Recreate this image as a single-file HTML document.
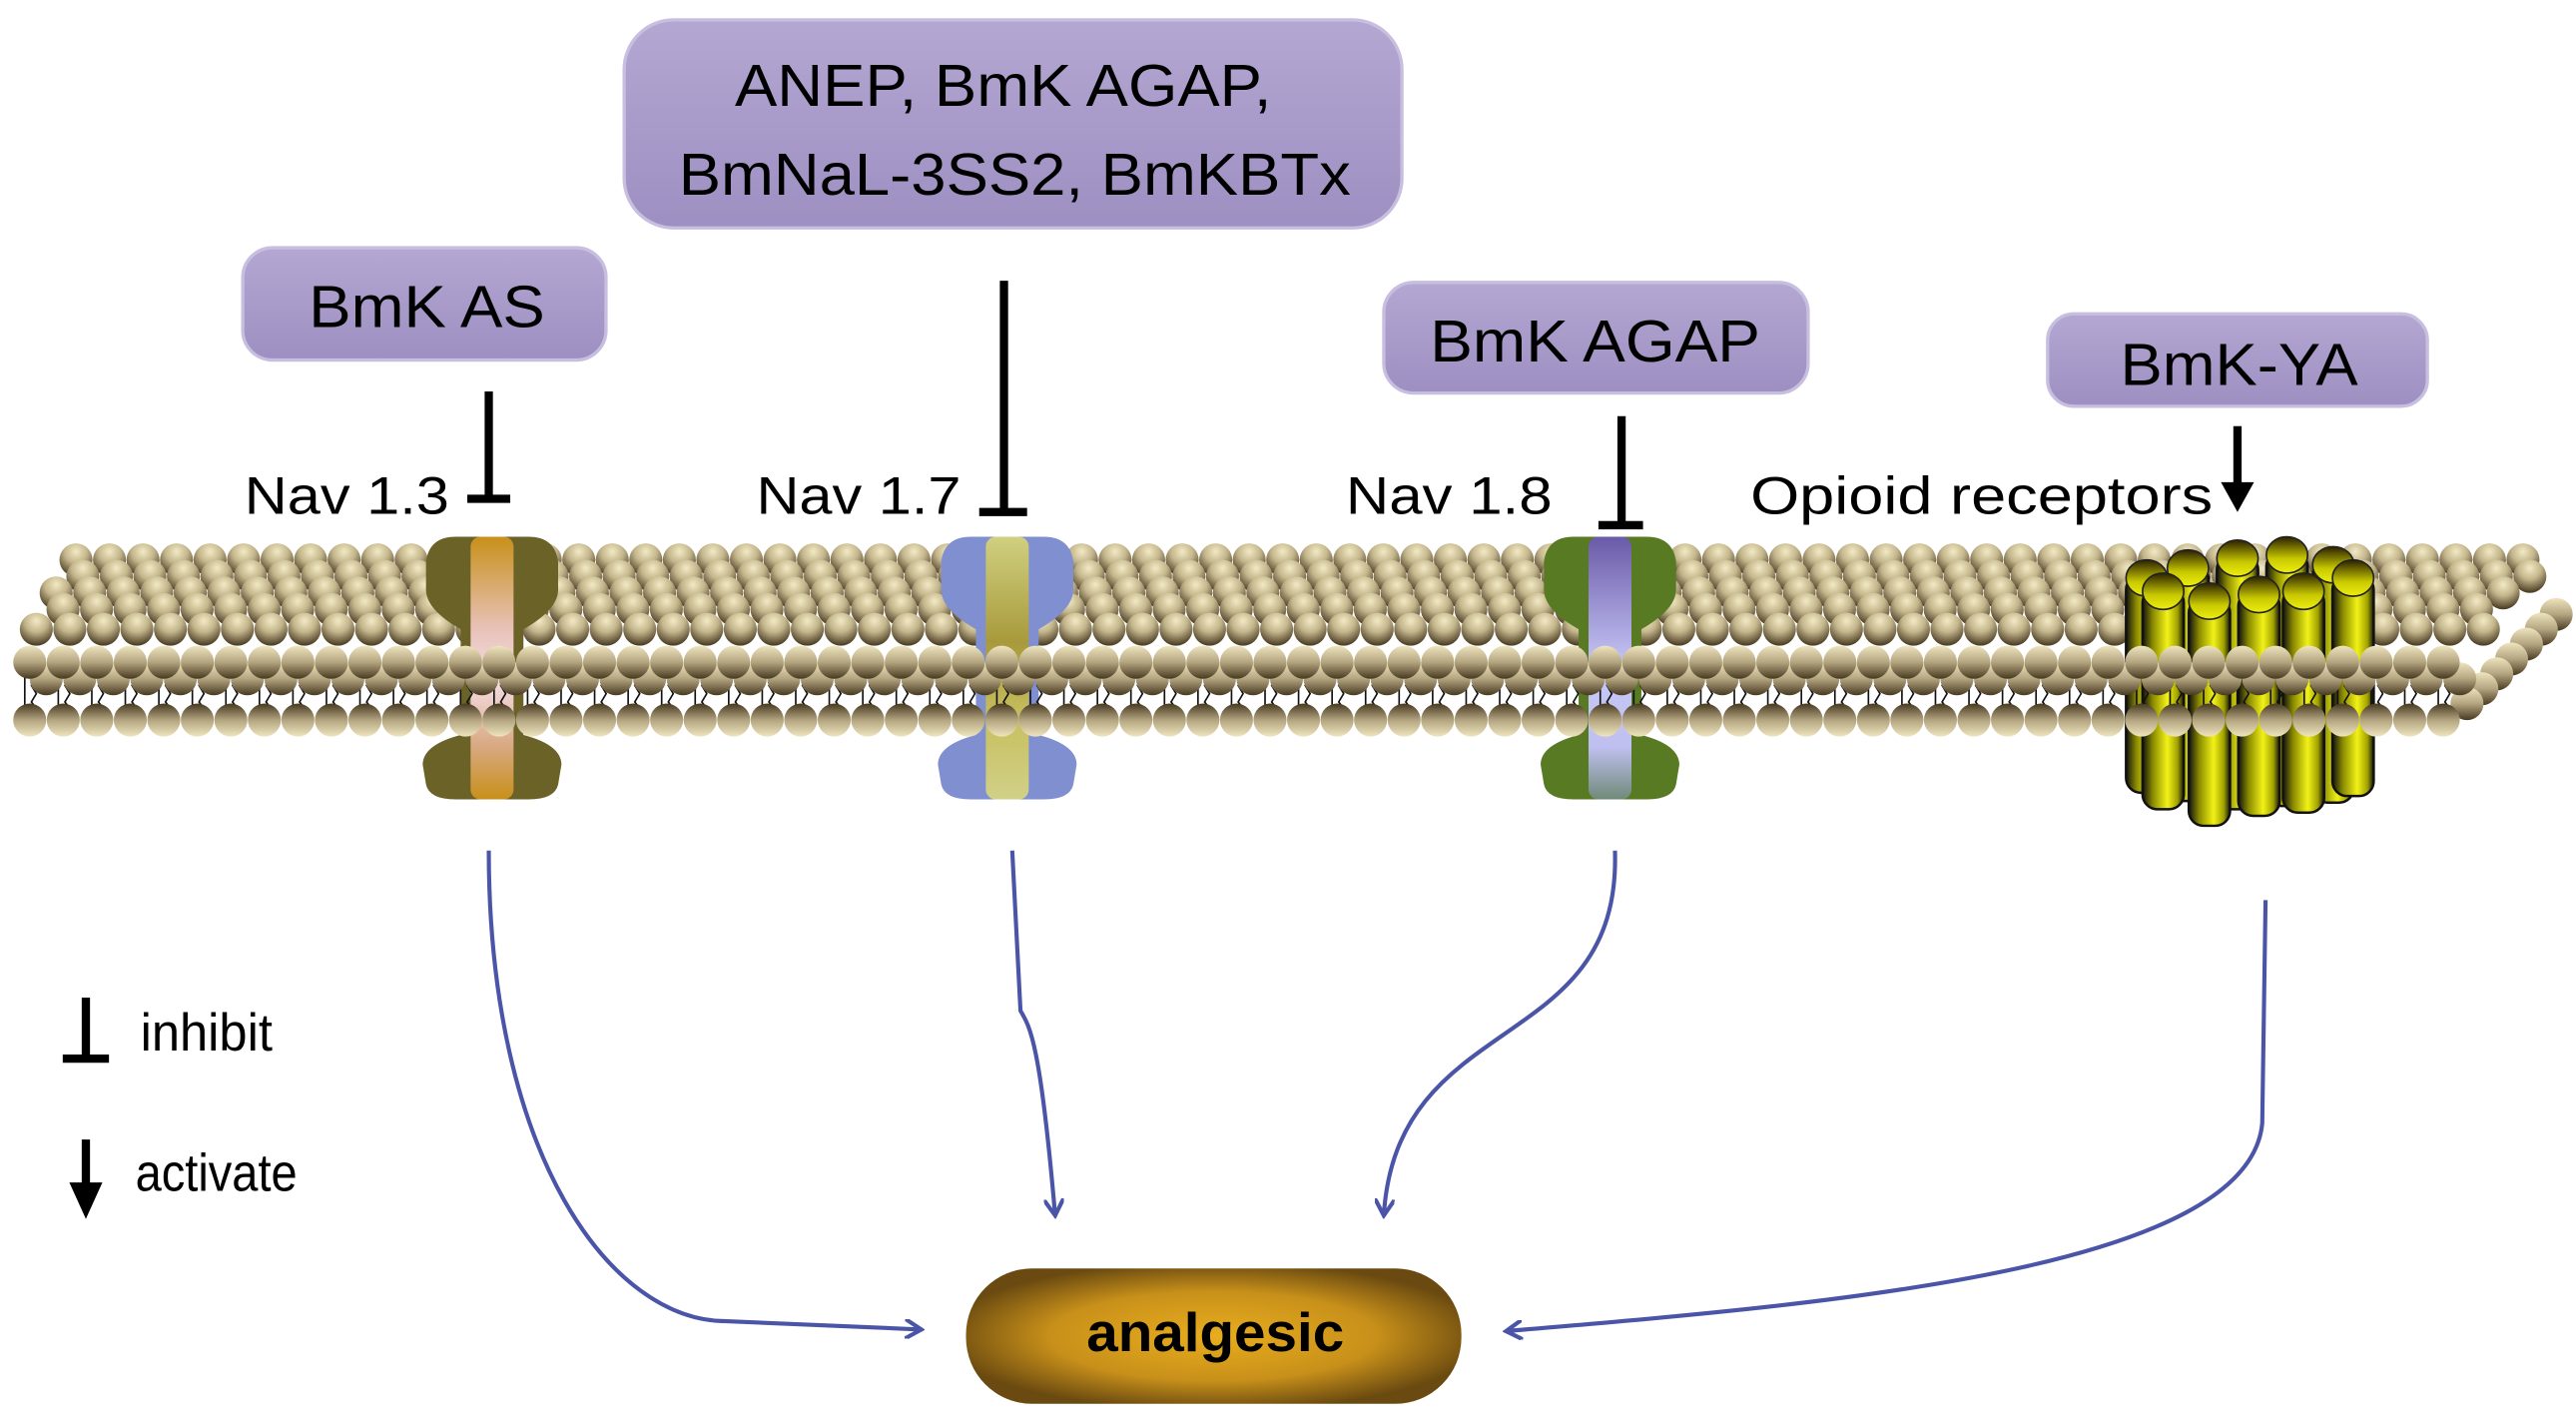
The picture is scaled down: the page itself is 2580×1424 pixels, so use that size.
<!DOCTYPE html>
<html><head><meta charset="utf-8"><style>
html,body{margin:0;padding:0;background:#fff;}
svg{display:block;}
text{font-family:"Liberation Sans",sans-serif;}
</style></head><body>
<svg id="s" xmlns="http://www.w3.org/2000/svg" width="2580" height="1424" viewBox="0 0 1560 861" preserveAspectRatio="none">
<defs>
<radialGradient id="hd" cx="0.5" cy="0.25" r="0.75"><stop offset="0" stop-color="#f2e9c4"/><stop offset="0.45" stop-color="#c4b68c"/><stop offset="1" stop-color="#46381f"/></radialGradient>
<linearGradient id="hu" x1="0" y1="0" x2="0" y2="1"><stop offset="0" stop-color="#efe5bf"/><stop offset="0.5" stop-color="#b3a580"/><stop offset="1" stop-color="#473920"/></linearGradient>
<linearGradient id="hb" x1="0" y1="0" x2="0" y2="1"><stop offset="0" stop-color="#473920"/><stop offset="0.5" stop-color="#b3a580"/><stop offset="1" stop-color="#efe5bf"/></linearGradient>
<linearGradient id="box" x1="0" y1="0" x2="0" y2="1"><stop offset="0" stop-color="#b4a7d2"/><stop offset="1" stop-color="#9d8fc1"/></linearGradient>
<linearGradient id="p13" x1="0" y1="0" x2="0" y2="1"><stop offset="0" stop-color="#c8901a"/><stop offset="0.35" stop-color="#e8c2b8"/><stop offset="0.55" stop-color="#f5dde5"/><stop offset="0.8" stop-color="#d8a880"/><stop offset="1" stop-color="#c8901a"/></linearGradient>
<linearGradient id="p17" x1="0" y1="0" x2="0" y2="1"><stop offset="0" stop-color="#d0d080"/><stop offset="0.4" stop-color="#a89a3c"/><stop offset="0.7" stop-color="#c8c060"/><stop offset="1" stop-color="#d0d088"/></linearGradient>
<linearGradient id="p18" x1="0" y1="0" x2="0" y2="1"><stop offset="0" stop-color="#6a5aa8"/><stop offset="0.5" stop-color="#c8c8f8"/><stop offset="0.8" stop-color="#c0c0f0"/><stop offset="1" stop-color="#6f8a78"/></linearGradient>
<linearGradient id="cyl" x1="0" y1="0" x2="1" y2="0"><stop offset="0" stop-color="#111"/><stop offset="0.25" stop-color="#8a8a00"/><stop offset="0.6" stop-color="#f2f218"/><stop offset="0.85" stop-color="#a0a000"/><stop offset="1" stop-color="#111"/></linearGradient>
<linearGradient id="cyt" x1="0" y1="0" x2="0" y2="1"><stop offset="0" stop-color="#2a2000"/><stop offset="0.6" stop-color="#c8c800"/><stop offset="1" stop-color="#eeee10"/></linearGradient>
<radialGradient id="ana" cx="0.5" cy="0.5" r="0.55"><stop offset="0" stop-color="#e8ad1e"/><stop offset="0.6" stop-color="#c8901a"/><stop offset="1" stop-color="#6a4a10"/></radialGradient>
<marker id="ar" markerWidth="12" markerHeight="12" refX="10" refY="6" orient="auto" markerUnits="userSpaceOnUse"><path d="M0,0 L10,6 L0,12" fill="none" stroke="#4a55a8" stroke-width="2.5"/></marker>
</defs>
<g id="back"></g>
<g id="chan"></g>
<g id="front"></g>

<!-- boxes -->
<rect x="147" y="150" width="220" height="68" rx="18" fill="url(#box)" stroke="#c8bfe0" stroke-width="2"/>
<text x="187" y="198" font-size="36" textLength="143" lengthAdjust="spacingAndGlyphs">BmK AS</text>
<rect x="378" y="12" width="471" height="126" rx="30" fill="url(#box)" stroke="#c8bfe0" stroke-width="2"/>
<text x="445" y="64" font-size="36" textLength="325" lengthAdjust="spacingAndGlyphs">ANEP, BmK AGAP,</text>
<text x="411" y="118" font-size="36" textLength="407" lengthAdjust="spacingAndGlyphs">BmNaL-3SS2, BmKBTx</text>
<rect x="838" y="171" width="257" height="67" rx="18" fill="url(#box)" stroke="#c8bfe0" stroke-width="2"/>
<text x="866" y="219" font-size="36" textLength="200" lengthAdjust="spacingAndGlyphs">BmK AGAP</text>
<rect x="1240" y="190" width="230" height="56" rx="16" fill="url(#box)" stroke="#c8bfe0" stroke-width="2"/>
<text x="1284" y="233" font-size="36" textLength="144" lengthAdjust="spacingAndGlyphs">BmK-YA</text>

<!-- inhibitors -->
<g stroke="#000" stroke-width="5" fill="none">
<path d="M296,237 V302 M283,302 H309"/>
<path d="M608,170 V310 M593,310 H622"/>
<path d="M982,252 V318 M968,318 H995"/>
<path d="M1355,258 V295"/>
</g>
<path d="M1345,292 L1365,292 L1355,310 Z" fill="#000"/>
<text x="148" y="311" font-size="32" textLength="124" lengthAdjust="spacingAndGlyphs">Nav 1.3</text>
<text x="458" y="311" font-size="32" textLength="124" lengthAdjust="spacingAndGlyphs">Nav 1.7</text>
<text x="815" y="311" font-size="32" textLength="125" lengthAdjust="spacingAndGlyphs">Nav 1.8</text>
<text x="1060" y="311" font-size="32" textLength="280" lengthAdjust="spacingAndGlyphs">Opioid receptors</text>

<!-- curves -->
<g stroke="#4a55a8" stroke-width="2.5" fill="none" marker-end="url(#ar)">
<path d="M296,515 C296,700 370,800 440,800 L558,805"/>
<path d="M613,515 L618,612 C624,622 630,632 639,736"/>
<path d="M978,515 C982,640 846,610 838,736"/>
<path d="M1372,545 L1370,680 C1362,770 1100,790 912,806"/>
</g>
<rect x="585" y="768" width="300" height="82" rx="40" ry="40" fill="url(#ana)"/>
<text x="658" y="818" font-size="33" font-weight="bold" textLength="156" lengthAdjust="spacingAndGlyphs">analgesic</text>

<!-- legend -->
<g stroke="#000" stroke-width="5"><path d="M52,604 V641 M38,641 H66"/><path d="M52,690 V720"/></g>
<path d="M42,716 L62,716 L52,738 Z" fill="#000"/>
<text x="85" y="636" font-size="32" font-family="Liberation Serif,serif" textLength="80" lengthAdjust="spacingAndGlyphs">inhibit</text>
<text x="82" y="721" font-size="32" font-family="Liberation Serif,serif" textLength="98" lengthAdjust="spacingAndGlyphs">activate</text>

<script>
var NS="http://www.w3.org/2000/svg";
function el(p,t,a){var e=document.createElementNS(NS,t);for(var k in a)e.setAttribute(k,a[k]);p.appendChild(e);return e;}
var back=document.getElementById('back'),front=document.getElementById('front'),chan=document.getElementById('chan');
var r=10,sp=20.3;
var rows=[[339,46,1546],[349,40,1538],[359,34,1530],[369,28,1520],[381,22,1508]];
rows.forEach(function(rw,i){for(var x=rw[1]+(i%2)*sp/2;x<=rw[2];x+=sp)el(back,'circle',{cx:x,cy:rw[0],r:r,fill:'url(#hd)'});});
for(var k=0;k<7;k++){el(back,'circle',{cx:1548-k*9,cy:372+k*9,r:r,fill:'url(#hu)'});}
function channel(cx,outer,pore){
 var g=el(chan,'g',{transform:'translate('+cx+',325)'});
 el(g,'path',{d:'M-22,0 Q-38,0 -40,15 L-40,32 Q-40,44 -19,56 L-19,120 Q-42,126 -42,138 L-40,150 Q-38,159 -22,159 L22,159 Q38,159 40,150 L42,138 Q42,126 19,120 L19,56 Q40,44 40,32 L40,15 Q38,0 22,0 Z',fill:outer});
 el(g,'rect',{x:-13,y:0,width:26,height:159,rx:6,fill:pore});
}
channel(298,'#6b6228','url(#p13)');channel(610,'#7f8fd0','url(#p17)');channel(975,'#577a22','url(#p18)');
var order=[[1300,348,480],[1325,342,485],[1355,336,490],[1385,334,488],[1413,340,486],[1310,356,490],[1338,362,500],[1368,358,494],[1395,356,492],[1425,348,482]];
order.forEach(function(c){var w=25;
 el(chan,'rect',{x:c[0]-w/2,y:c[1],width:w,height:c[2]-c[1],rx:9,fill:'url(#cyl)',stroke:'#111','stroke-width':1.5});
 el(chan,'ellipse',{cx:c[0],cy:c[1]+2,rx:w/2,ry:11,fill:'url(#cyt)',stroke:'#222','stroke-width':1});});
var tp='';for(var x=18;x<=1488;x+=sp){tp+='M'+(x-3)+',410 L'+(x-3)+',427 M'+(x+4)+',410 l-3,5 3,5 -3,5 3,4 ';}
el(front,'path',{d:tp,stroke:'#111','stroke-width':1,fill:'none'});
for(var x=28;x<=1490;x+=sp)el(front,'circle',{cx:x,cy:411,r:r,fill:'url(#hu)'});
for(var x=18;x<=1488;x+=sp)el(front,'circle',{cx:x,cy:401,r:r,fill:'url(#hu)'});
for(var x=18;x<=1488;x+=sp)el(front,'circle',{cx:x,cy:436,r:r,fill:'url(#hb)'});
</script>
</svg>
</body></html>
